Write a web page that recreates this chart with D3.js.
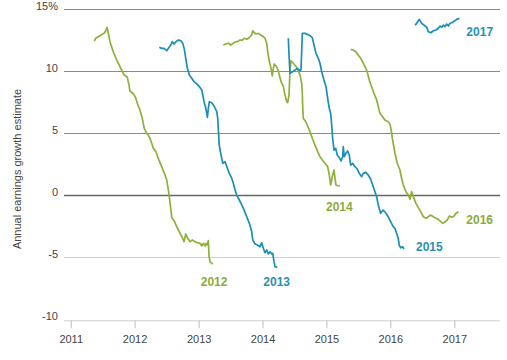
<!DOCTYPE html>
<html>
<head>
<meta charset="utf-8">
<script src="https://cdn.jsdelivr.net/npm/d3@7"></script>
<style>
  html, body { margin: 0; padding: 0; background: #fff; }
  svg { display: block; font-family: "Liberation Sans", Arial, sans-serif; }
</style>
</head>
<body>
<svg id="chart" width="507" height="360"></svg>
<script>
// ---- Data: [decimal year, estimate %] ----
const series2012 = [[2011.369,12.44],[2011.391,12.66],[2011.422,12.77],[2011.458,12.87],[2011.494,12.98],[2011.526,13.09],[2011.547,13.25],[2011.568,13.52],[2011.579,13.33],[2011.615,12.39],[2011.666,11.58],[2011.720,10.91],[2011.771,10.37],[2011.807,9.97],[2011.838,9.70],[2011.885,9.54],[2011.912,8.90],[2011.928,8.41],[2011.979,8.19],[2012.017,7.87],[2012.048,7.34],[2012.084,6.88],[2012.120,6.21],[2012.151,5.40],[2012.189,5.00],[2012.214,4.86],[2012.240,4.60],[2012.267,4.19],[2012.292,3.79],[2012.334,3.52],[2012.370,2.98],[2012.423,2.31],[2012.475,1.64],[2012.502,1.23],[2012.527,0.43],[2012.542,-0.11],[2012.564,-1.05],[2012.580,-1.77],[2012.616,-2.05],[2012.658,-2.53],[2012.710,-3.06],[2012.752,-3.47],[2012.772,-3.74],[2012.799,-3.12],[2012.830,-3.47],[2012.866,-3.74],[2012.902,-3.60],[2012.944,-3.74],[2012.980,-3.82],[2013.023,-3.87],[2013.049,-4.09],[2013.074,-3.87],[2013.101,-4.09],[2013.116,-3.87],[2013.137,-4.01],[2013.152,-3.66],[2013.163,-4.95],[2013.179,-5.35],[2013.221,-5.56]];
const series2013 = [[2012.386,11.94],[2012.423,11.85],[2012.459,11.85],[2012.502,11.66],[2012.527,11.85],[2012.564,12.12],[2012.589,12.39],[2012.616,12.20],[2012.647,12.39],[2012.683,12.52],[2012.721,12.47],[2012.752,12.26],[2012.777,11.77],[2012.799,11.05],[2012.824,10.24],[2012.855,9.70],[2012.893,9.44],[2012.929,9.16],[2012.971,8.98],[2013.012,8.76],[2013.049,8.49],[2013.065,8.09],[2013.085,7.55],[2013.112,7.02],[2013.137,6.29],[2013.152,7.02],[2013.168,7.55],[2013.206,7.47],[2013.242,7.20],[2013.284,6.74],[2013.299,6.21],[2013.309,5.27],[2013.320,4.19],[2013.335,3.65],[2013.362,2.98],[2013.378,2.58],[2013.414,2.71],[2013.450,2.18],[2013.481,1.77],[2013.518,1.37],[2013.543,0.97],[2013.570,0.43],[2013.597,0.02],[2013.637,-0.38],[2013.675,-0.78],[2013.711,-1.18],[2013.753,-1.73],[2013.794,-2.26],[2013.831,-2.94],[2013.847,-3.60],[2013.883,-3.93],[2013.919,-4.01],[2013.961,-4.15],[2013.988,-3.82],[2014.013,-4.27],[2014.039,-4.63],[2014.066,-4.41],[2014.091,-4.73],[2014.118,-4.55],[2014.144,-4.73],[2014.160,-4.68],[2014.180,-5.35],[2014.196,-5.76],[2014.232,-5.81]];
const series2014 = [[2013.387,12.12],[2013.425,12.20],[2013.465,12.26],[2013.503,12.12],[2013.543,12.26],[2013.581,12.39],[2013.612,12.39],[2013.648,12.52],[2013.684,12.52],[2013.716,12.66],[2013.753,12.58],[2013.778,12.66],[2013.805,12.79],[2013.831,12.93],[2013.847,13.27],[2013.872,13.11],[2013.899,13.01],[2013.934,13.06],[2013.972,12.93],[2014.013,12.79],[2014.039,12.66],[2014.066,12.26],[2014.082,11.58],[2014.102,10.91],[2014.133,10.24],[2014.153,9.62],[2014.169,10.24],[2014.185,10.59],[2014.211,10.43],[2014.238,10.16],[2014.263,9.70],[2014.290,9.16],[2014.326,8.76],[2014.352,8.09],[2014.379,7.55],[2014.394,7.47],[2014.415,8.09],[2014.430,10.10],[2014.446,10.85],[2014.482,10.65],[2014.519,10.43],[2014.551,10.16],[2014.587,9.70],[2014.613,9.03],[2014.623,8.23],[2014.629,7.15],[2014.638,6.21],[2014.676,5.94],[2014.707,5.59],[2014.743,5.13],[2014.779,4.60],[2014.821,4.06],[2014.864,3.52],[2014.900,3.11],[2014.936,2.85],[2014.978,2.58],[2015.020,2.31],[2015.045,1.64],[2015.067,0.83],[2015.092,1.50],[2015.119,2.04],[2015.135,1.37],[2015.150,0.83],[2015.177,0.77],[2015.213,0.75]];
const series2015 = [[2014.404,12.66],[2014.415,11.31],[2014.430,9.84],[2014.473,9.97],[2014.509,10.10],[2014.545,10.24],[2014.576,10.10],[2014.602,10.10],[2014.613,11.58],[2014.623,13.06],[2014.665,13.06],[2014.701,12.98],[2014.743,12.87],[2014.779,12.71],[2014.806,12.12],[2014.837,11.45],[2014.873,11.05],[2014.900,10.65],[2014.926,9.97],[2014.962,9.30],[2014.994,8.76],[2015.020,7.82],[2015.045,7.02],[2015.067,6.61],[2015.083,5.67],[2015.098,4.60],[2015.119,3.65],[2015.145,3.79],[2015.170,3.25],[2015.202,3.03],[2015.228,2.77],[2015.255,3.11],[2015.264,3.92],[2015.280,3.11],[2015.306,3.39],[2015.333,3.57],[2015.358,3.25],[2015.380,2.44],[2015.411,2.58],[2015.447,2.31],[2015.483,2.12],[2015.514,1.77],[2015.552,1.50],[2015.577,1.77],[2015.619,1.85],[2015.655,1.64],[2015.693,1.31],[2015.724,0.83],[2015.760,0.29],[2015.787,-0.11],[2015.812,-0.78],[2015.849,-1.45],[2015.890,-1.19],[2015.932,-1.45],[2015.968,-1.73],[2016.006,-2.13],[2016.046,-2.53],[2016.073,-2.66],[2016.099,-3.06],[2016.124,-3.47],[2016.140,-4.01],[2016.162,-4.23],[2016.193,-4.15],[2016.214,-4.33]];
const series2016 = [[2015.380,11.77],[2015.421,11.72],[2015.463,11.58],[2015.499,11.31],[2015.536,11.05],[2015.567,10.77],[2015.603,10.37],[2015.639,9.97],[2015.671,9.30],[2015.708,8.76],[2015.744,8.23],[2015.787,7.69],[2015.838,6.61],[2015.880,6.34],[2015.916,6.07],[2015.968,5.94],[2015.995,5.75],[2016.010,5.40],[2016.037,4.46],[2016.073,3.39],[2016.109,2.58],[2016.151,2.04],[2016.177,1.37],[2016.203,0.83],[2016.245,0.29],[2016.281,0.02],[2016.308,-0.32],[2016.334,0.29],[2016.359,-0.11],[2016.401,-0.65],[2016.437,-0.97],[2016.475,-1.32],[2016.516,-1.73],[2016.558,-1.85],[2016.594,-1.73],[2016.631,-1.59],[2016.672,-1.73],[2016.714,-1.85],[2016.750,-1.94],[2016.788,-2.13],[2016.819,-2.26],[2016.855,-2.13],[2016.891,-1.99],[2016.922,-1.67],[2016.960,-1.77],[2016.996,-1.67],[2017.027,-1.45],[2017.063,-1.32]];
const series2017 = [[2016.386,13.73],[2016.412,13.87],[2016.453,14.19],[2016.490,13.87],[2016.526,13.73],[2016.569,13.55],[2016.594,13.19],[2016.636,13.11],[2016.672,13.27],[2016.714,13.33],[2016.750,13.47],[2016.777,13.65],[2016.803,13.55],[2016.829,13.73],[2016.855,13.60],[2016.881,13.81],[2016.907,13.65],[2016.933,13.87],[2016.960,13.92],[2016.985,14.00],[2017.012,14.08],[2017.038,14.19],[2017.079,14.27]];

const seriesNames = ["2012", "2013", "2014", "2015", "2016", "2017"];
const seriesData = [series2012, series2013, series2014, series2015, series2016, series2017];
const yTicks = [15, 10, 5, 0, -5, -10];
const xTickYears = [2011, 2012, 2013, 2014, 2015, 2016, 2017];
const yTitle = "Annual earnings growth estimate";

// ---- Styles / layout ----
const GREEN = "#8fb03a", BLUE = "#1b8fb5";
const GREEN_TXT = "#8aac3c", BLUE_TXT = "#2a90b3";
const seriesColor = [GREEN, BLUE, GREEN, BLUE, GREEN, BLUE];
const labelColor = [GREEN_TXT, BLUE_TXT, GREEN_TXT, BLUE_TXT, GREEN_TXT, BLUE_TXT];
// label offset (px) from the series' last point: [dx, dy] (text start, baseline)
const labelOffset = [[-12, 22], [-14, 19], [-14, 25], [12, 2], [8, 12], [7, 18]];

function yearToDate(y) {
  const yr = Math.floor(y);
  const start = new Date(yr, 0, 1).getTime();
  const end = new Date(yr + 1, 0, 1).getTime();
  return new Date(start + (y - yr) * (end - start));
}

const svg = d3.select("#chart");
const x = d3.scaleTime()
  .domain([yearToDate(2010.895), yearToDate(2017.715)])
  .range([64, 500]);
const y = d3.scaleLinear().domain([-10, 15]).range([319.3, 9.3]);

// gridlines
const gridColor = v => v === 0 ? "#666" : (v > 0 ? "#8a8a8a" : "#cfcfcf");
svg.append("g").selectAll("line")
  .data(yTicks.filter(v => v !== -10))
  .join("line")
  .attr("x1", 64).attr("x2", 500)
  .attr("y1", d => Math.round(y(d)) + 0.5).attr("y2", d => Math.round(y(d)) + 0.5)
  .attr("stroke", gridColor)
  .attr("stroke-width", d => d === 0 ? 1.3 : 1);

// y labels
svg.append("g").selectAll("text")
  .data(yTicks)
  .join("text")
  .attr("x", 58)
  .attr("y", d => y(d) + 1)
  .attr("text-anchor", "end")
  .attr("font-size", 11)
  .attr("fill", "#444")
  .text(d => d === 15 ? "15%" : d);

// x axis
const xAxis = d3.axisBottom(x)
  .tickValues(xTickYears.map(yr => new Date(yr, 0, 1)))
  .tickFormat(d3.timeFormat("%Y"))
  .tickSize(8)
  .tickPadding(7);
const gx = svg.append("g")
  .attr("transform", `translate(0,${y(-10) + 1})`)
  .call(xAxis);
gx.select(".domain").attr("stroke", "#cfcfcf").attr("d", "M64,0.5H500");
gx.selectAll(".tick line").attr("stroke", "#bdbdbd").attr("transform", "translate(0,0)");
gx.selectAll(".tick text")
  .attr("font-size", 11)
  .attr("fill", "#444")
  .attr("font-family", "Liberation Sans, Arial, sans-serif");

// y title
svg.append("text")
  .attr("transform", "translate(21,169) rotate(-90)")
  .attr("text-anchor", "middle")
  .attr("font-size", 11)
  .attr("fill", "#444")
  .text(yTitle);

// lines
const line = d3.line()
  .x(d => x(yearToDate(d[0])))
  .y(d => y(d[1]));

svg.append("g").selectAll("path")
  .data(seriesData)
  .join("path")
  .attr("d", line)
  .attr("fill", "none")
  .attr("stroke", (d, i) => seriesColor[i])
  .attr("stroke-width", 1.7)
  .attr("stroke-linejoin", "round");

// series labels
svg.append("g").selectAll("text")
  .data(seriesData)
  .join("text")
  .attr("x", (d, i) => x(yearToDate(d[d.length - 1][0])) + labelOffset[i][0])
  .attr("y", (d, i) => y(d[d.length - 1][1]) + labelOffset[i][1])
  .attr("font-size", 12)
  .attr("font-weight", "bold")
  .attr("fill", (d, i) => labelColor[i])
  .text((d, i) => seriesNames[i]);
</script>
</body>
</html>
